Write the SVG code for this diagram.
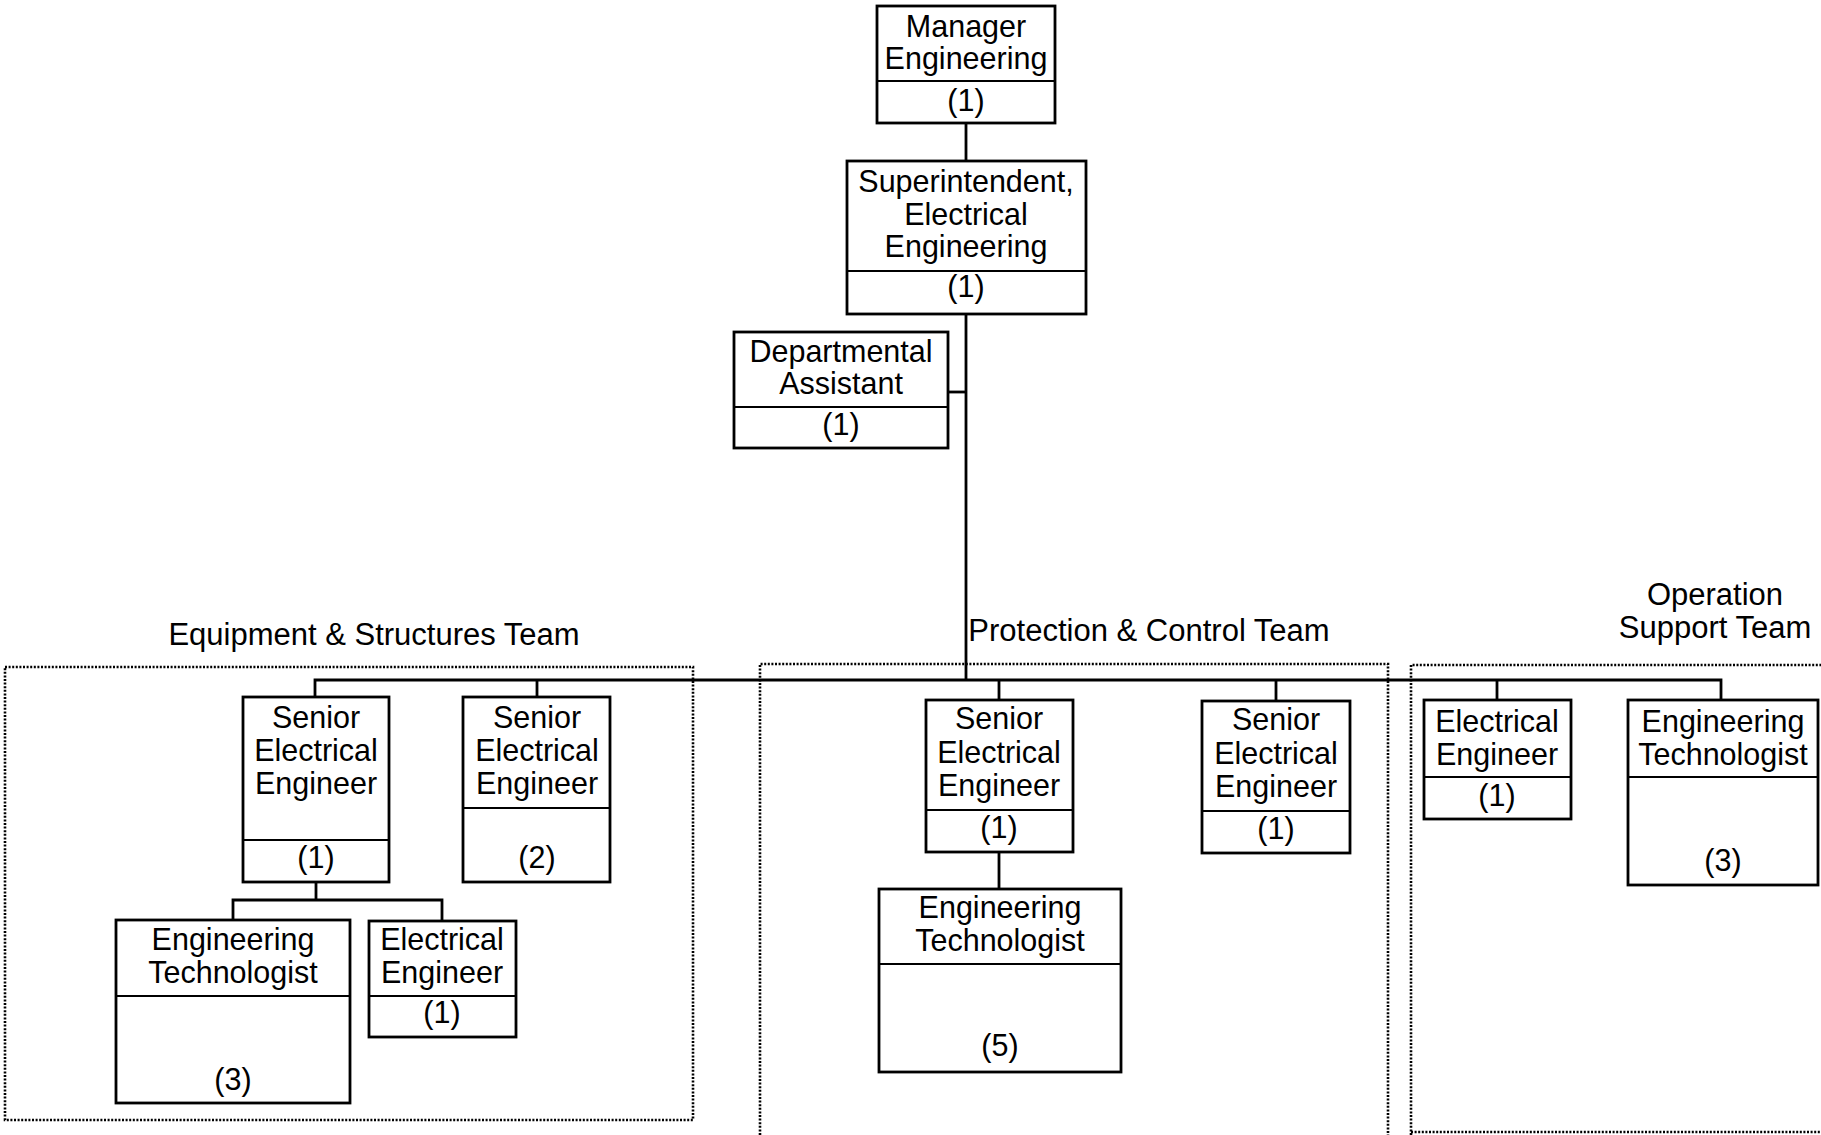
<svg xmlns="http://www.w3.org/2000/svg" width="1821" height="1135" viewBox="0 0 1821 1135">
<style>
.box{fill:#fff;stroke:#000;stroke-width:2.8}
.div{stroke:#000;stroke-width:2.2}
.t{font-family:"Liberation Sans",Arial,sans-serif;font-size:30.5px;fill:#000;text-anchor:middle}
.lbl{font-family:"Liberation Sans",Arial,sans-serif;font-size:31px;fill:#000;text-anchor:middle}
.team{fill:none;stroke:#000;stroke-width:2.6;stroke-dasharray:2 1.6}
.c{fill:none;stroke:#000;stroke-width:2.8}
</style>
<rect width="1821" height="1135" fill="#fff"/>
<g id="teams">
<rect class="team" x="5" y="667" width="688" height="453"/>
<path class="team" d="M760,1135 V664 H1388 V1135"/>
<path class="team" d="M1411,1135 V665 H1821"/>
<line class="team" x1="1411" y1="1132" x2="1821" y2="1132"/>
<text class="lbl" x="374" y="645">Equipment &amp; Structures Team</text>
<text class="lbl" x="1149" y="641">Protection &amp; Control Team</text>
<text class="lbl" x="1715" y="605">Operation</text>
<text class="lbl" x="1715" y="638">Support Team</text>
</g>
<g id="connectors">
<path class="c" d="M966,123 V161"/>
<path class="c" d="M966,314 V680"/>
<path class="c" d="M948,392 H966"/>
<path class="c" d="M315,697 V680 H1721 V700"/>
<path class="c" d="M537,680 V697"/>
<path class="c" d="M999,680 V700"/>
<path class="c" d="M1276,680 V701"/>
<path class="c" d="M1497,680 V700"/>
<path class="c" d="M316,882 V900"/>
<path class="c" d="M233,920 V900 H442 V921"/>
<path class="c" d="M999,852 V889"/>
</g>
<g id="manager">
<rect class="box" x="877" y="6" width="178" height="117"/>
<line class="div" x1="877" y1="81" x2="1055" y2="81"/>
<text class="t" x="966" y="37">Manager</text>
<text class="t" x="966" y="69">Engineering</text>
<text class="t" x="966" y="111">(1)</text>
</g>
<g id="superintendent">
<rect class="box" x="847" y="161" width="239" height="153"/>
<line class="div" x1="847" y1="271" x2="1086" y2="271"/>
<text class="t" x="966" y="192">Superintendent,</text>
<text class="t" x="966" y="225">Electrical</text>
<text class="t" x="966" y="257">Engineering</text>
<text class="t" x="966" y="297">(1)</text>
</g>
<g id="departmental-assistant">
<rect class="box" x="734" y="332" width="214" height="116"/>
<line class="div" x1="734" y1="407" x2="948" y2="407"/>
<text class="t" x="841" y="362">Departmental</text>
<text class="t" x="841" y="394">Assistant</text>
<text class="t" x="841" y="435">(1)</text>
</g>
<g id="see1">
<rect class="box" x="243" y="697" width="146" height="185"/>
<line class="div" x1="243" y1="840" x2="389" y2="840"/>
<text class="t" x="316" y="728">Senior</text>
<text class="t" x="316" y="761">Electrical</text>
<text class="t" x="316" y="794">Engineer</text>
<text class="t" x="316" y="868">(1)</text>
</g>
<g id="see2">
<rect class="box" x="463" y="697" width="147" height="185"/>
<line class="div" x1="463" y1="808" x2="610" y2="808"/>
<text class="t" x="537" y="728">Senior</text>
<text class="t" x="537" y="761">Electrical</text>
<text class="t" x="537" y="794">Engineer</text>
<text class="t" x="537" y="868">(2)</text>
</g>
<g id="engtech1">
<rect class="box" x="116" y="920" width="234" height="183"/>
<line class="div" x1="116" y1="996" x2="350" y2="996"/>
<text class="t" x="233" y="950">Engineering</text>
<text class="t" x="233" y="983">Technologist</text>
<text class="t" x="233" y="1090">(3)</text>
</g>
<g id="ee1">
<rect class="box" x="369" y="921" width="147" height="116"/>
<line class="div" x1="369" y1="996" x2="516" y2="996"/>
<text class="t" x="442" y="950">Electrical</text>
<text class="t" x="442" y="983">Engineer</text>
<text class="t" x="442" y="1023">(1)</text>
</g>
<g id="see3">
<rect class="box" x="926" y="700" width="147" height="152"/>
<line class="div" x1="926" y1="810" x2="1073" y2="810"/>
<text class="t" x="999" y="729">Senior</text>
<text class="t" x="999" y="763">Electrical</text>
<text class="t" x="999" y="796">Engineer</text>
<text class="t" x="999" y="838">(1)</text>
</g>
<g id="see4">
<rect class="box" x="1202" y="701" width="148" height="152"/>
<line class="div" x1="1202" y1="811" x2="1350" y2="811"/>
<text class="t" x="1276" y="730">Senior</text>
<text class="t" x="1276" y="764">Electrical</text>
<text class="t" x="1276" y="797">Engineer</text>
<text class="t" x="1276" y="839">(1)</text>
</g>
<g id="engtech2">
<rect class="box" x="879" y="889" width="242" height="183"/>
<line class="div" x1="879" y1="964" x2="1121" y2="964"/>
<text class="t" x="1000" y="918">Engineering</text>
<text class="t" x="1000" y="951">Technologist</text>
<text class="t" x="1000" y="1056">(5)</text>
</g>
<g id="ee2">
<rect class="box" x="1424" y="700" width="147" height="119"/>
<line class="div" x1="1424" y1="777" x2="1571" y2="777"/>
<text class="t" x="1497" y="732">Electrical</text>
<text class="t" x="1497" y="765">Engineer</text>
<text class="t" x="1497" y="806">(1)</text>
</g>
<g id="engtech3">
<rect class="box" x="1628" y="700" width="190" height="185"/>
<line class="div" x1="1628" y1="777" x2="1818" y2="777"/>
<text class="t" x="1723" y="732">Engineering</text>
<text class="t" x="1723" y="765">Technologist</text>
<text class="t" x="1723" y="871">(3)</text>
</g>
</svg>
